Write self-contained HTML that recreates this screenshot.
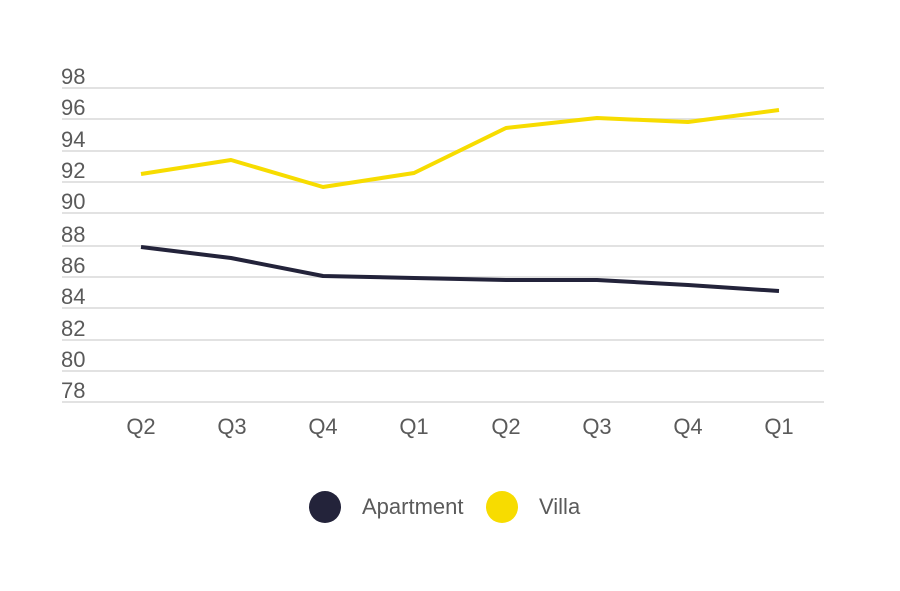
<!DOCTYPE html>
<html><head><style>body{margin:0;background:#fff}svg{display:block}text{font-family:"Liberation Sans",sans-serif;fill:#5a5a5a}</style></head>
<body>
<svg width="900" height="591" viewBox="0 0 900 591">
<g stroke="#e2e2e2" stroke-width="2">
<line x1="62" x2="824" y1="88" y2="88"/><line x1="62" x2="824" y1="119" y2="119"/><line x1="62" x2="824" y1="151" y2="151"/><line x1="62" x2="824" y1="182" y2="182"/><line x1="62" x2="824" y1="213" y2="213"/><line x1="62" x2="824" y1="246" y2="246"/><line x1="62" x2="824" y1="277" y2="277"/><line x1="62" x2="824" y1="308" y2="308"/><line x1="62" x2="824" y1="340" y2="340"/><line x1="62" x2="824" y1="371" y2="371"/><line x1="62" x2="824" y1="402" y2="402"/>
</g>
<g font-size="22">
<text x="61" y="84">98</text><text x="61" y="115">96</text><text x="61" y="147">94</text><text x="61" y="178">92</text><text x="61" y="209">90</text><text x="61" y="242">88</text><text x="61" y="273">86</text><text x="61" y="304">84</text><text x="61" y="336">82</text><text x="61" y="367">80</text><text x="61" y="398">78</text>
</g>
<g font-size="22" text-anchor="middle">
<text x="141" y="434">Q2</text><text x="232" y="434">Q3</text><text x="323" y="434">Q4</text><text x="414" y="434">Q1</text><text x="506" y="434">Q2</text><text x="597" y="434">Q3</text><text x="688" y="434">Q4</text><text x="779" y="434">Q1</text>
</g>
<polyline fill="none" stroke="#f7dc00" stroke-width="4" stroke-linejoin="round" points="141,174 231,160 323,187 414,173 506,128 597,118 688,122 779,110"/>
<polyline fill="none" stroke="#23233a" stroke-width="4" stroke-linejoin="round" points="141,247 231,258 323,276 414,278 506,280 597,280 688,285 779,291"/>
<circle cx="325" cy="507" r="16" fill="#23233a"/>
<text x="362" y="514" font-size="22">Apartment</text>
<circle cx="502" cy="507" r="16" fill="#f7dc00"/>
<text x="539" y="514" font-size="22">Villa</text>
</svg>
</body></html>
